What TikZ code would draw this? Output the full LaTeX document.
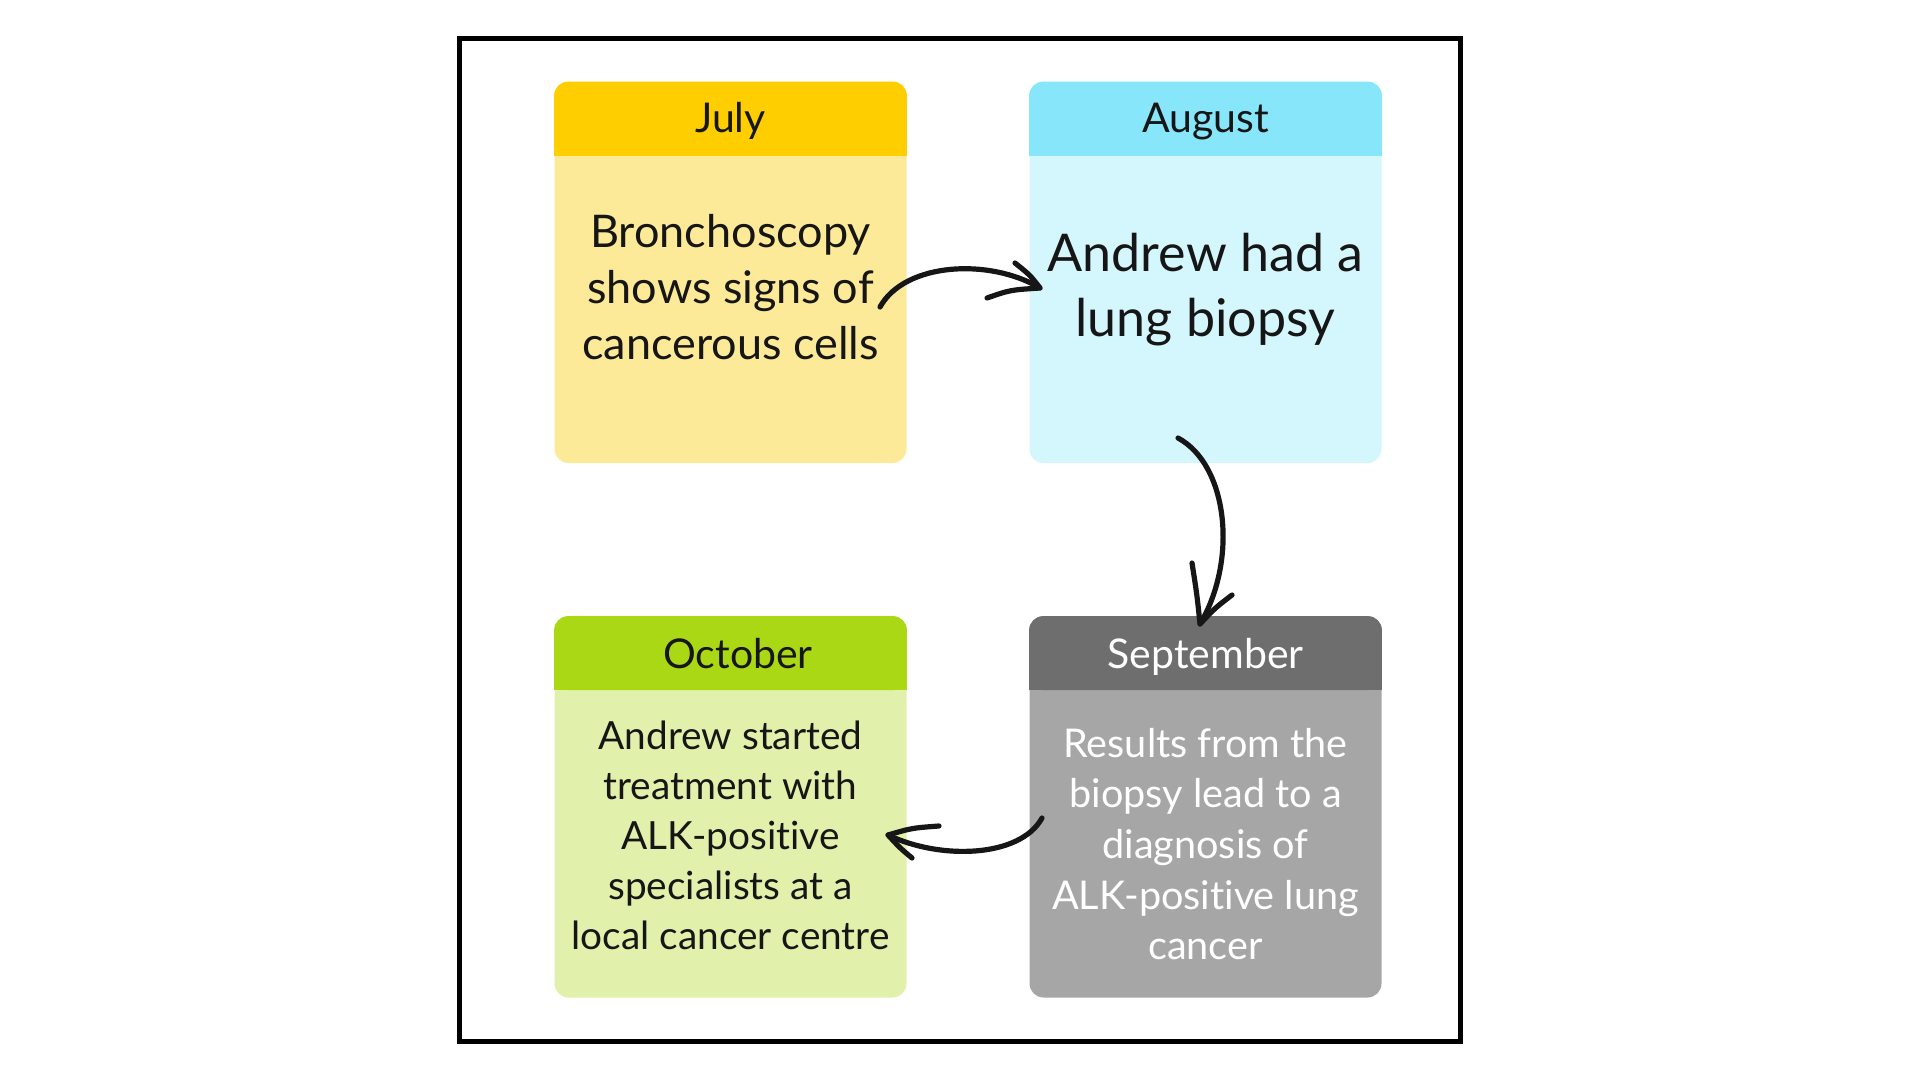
\documentclass[tikz,border=0pt]{standalone}
\usepackage{fontspec}
\setmainfont{Lato}[Ligatures=NoCommon]
\usetikzlibrary{calc}
\definecolor{julyH}{HTML}{FFCE00}
\definecolor{julyB}{HTML}{FDEA98}
\definecolor{augH}{HTML}{88E6FA}
\definecolor{augB}{HTML}{D4F6FD}
\definecolor{sepH}{HTML}{6E6E6E}
\definecolor{sepB}{HTML}{A6A6A6}
\definecolor{octH}{HTML}{ABD815}
\definecolor{octB}{HTML}{E1F0AA}
\definecolor{ink}{HTML}{161616}
\begin{document}
\begin{tikzpicture}[x=0.5pt,y=-0.5pt,
  card/.style={rectangle,rounded corners=7pt,inner sep=0pt,draw=none,minimum width=176pt,minimum height=190.5pt},
  hdrtext/.style={font=\fontsize{20.5}{24}\selectfont,text=ink,inner sep=0pt,anchor=base},
  bodytext/.style={align=center,text=ink,inner sep=0pt},
  sketch/.style={draw=ink,line width=2.6pt,line cap=round,line join=round}]
\useasboundingbox (0,0) rectangle (1920,1080);
\draw[line width=2.5pt] (459,38.5) rectangle (1460,1041);
% cards
\node[card,fill=julyB] (july) at (730.5,272.5) {};
\node[card,fill=augB] (aug) at (1205.5,272.5) {};
\node[card,fill=sepB] (sep) at (1205.5,807) {};
\node[card,fill=octB] (oct) at (730.5,807) {};
% headers
\foreach \c/\h in {july/julyH,aug/augH,sep/sepH,oct/octH}{
  \fill[\h,rounded corners=7pt] (\c.north west) rectangle ($(\c.north east)+(0,74)$);
  \fill[\h] ($(\c.north west)+(0,40)$) rectangle ($(\c.north east)+(0,74)$);
}
\node[hdrtext] (julyh) at (730.5,133) {July};
\node[hdrtext] (augh) at (1205.5,133) {August};
\node[hdrtext,text=white] (seph) at (1205.5,668) {September};
\node[hdrtext] (octh) at (738,668) {October};
% bodies
\node[bodytext,font=\fontsize{22.5}{28}\selectfont] (julyt) at (730.5,287) {Bronchoscopy\\shows signs of\\cancerous cells};
\node[bodytext,font=\fontsize{26}{32.5}\selectfont] (augt) at (1205.5,290) {Andrew had a\\lung biopsy};
\node[bodytext,font=\fontsize{19.8}{25.3}\selectfont,text=white] (sept) at (1205.5,844) {Results from the\\biopsy lead to a\\diagnosis of\\ALK-positive lung\\cancer};
\node[bodytext,font=\fontsize{19.4}{25}\selectfont] (octt) at (730.5,835.5) {Andrew started\\treatment with\\ALK-positive\\specialists at a\\local cancer centre};
% connector end points
\coordinate (a1s) at (880,307);
\coordinate (a1e) at (1040,288);
\coordinate (a1b) at (1015,263);
\coordinate (a1c) at (987,298);
\coordinate (a2s) at (1178,438);
\coordinate (a2e) at (1200,624);
\coordinate (a2b) at (1192,563);
\coordinate (a2c) at (1232,595);
\coordinate (a3s) at (1042,818);
\coordinate (a3e) at (888,835);
\coordinate (a3b) at (939,826);
\coordinate (a3c) at (912,858);
% arrows
\draw[sketch] (a1s) .. controls (905,262) and (990,258) .. (a1e);
\draw[sketch] (a1b) .. controls (1030,275) .. (a1e) .. controls (1010,290) .. (a1c);
\draw[sketch] (a2s) .. controls (1228,465) and (1238,560) .. (a2e);
\draw[sketch] (a2b) .. controls (1197,595) .. (a2e) .. controls (1215,608) .. (a2c);
\draw[sketch] (a3s) .. controls (1020,858) and (940,860) .. (a3e);
\draw[sketch] (a3b) .. controls (912,828) .. (a3e) .. controls (900,848) .. (a3c);
\end{tikzpicture}
\end{document}
